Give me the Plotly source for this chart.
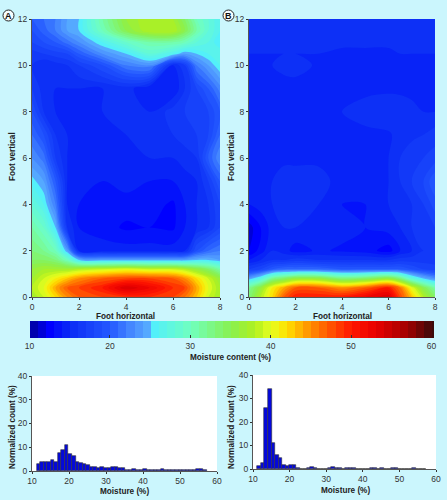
import plotly.graph_objects as go

FOOT_X = [0, 0.5, 1, 1.5, 2, 3, 4, 5, 6, 6.5, 7, 7.5, 8]
FOOT_Y = [0, 0.4, 0.8, 1.2, 1.6, 2, 3, 4, 5, 6, 7, 8, 9, 10, 10.5, 11, 11.5, 12]

FOOT_A = [
    [37, 39, 42, 45, 47, 48, 49, 49, 48, 46, 43, 39, 37],
    [38, 40, 44, 47, 48, 50, 54, 52, 49, 48, 44, 40, 37],
    [37, 39, 41, 43, 45, 47, 48, 48, 47, 45, 42, 39, 36],
    [36, 37, 37, 37, 38, 39, 40, 39, 39, 38, 36, 34, 31],
    [34, 34, 33, 30, 25, 24, 24, 24, 24, 24, 25, 25, 24],
    [33, 32, 30, 24, 15, 14.5, 14.5, 14.5, 14.5, 15, 19, 21, 22],
    [31, 29, 25, 16, 14, 13.5, 12.8, 13, 12.8, 14, 15, 16, 18],
    [28, 26, 22, 15, 14, 13.5, 13.5, 13.5, 12.8, 14, 15, 16, 18],
    [25.5, 24, 20, 15, 14.5, 14, 14.5, 14, 14, 14.5, 15, 17, 20],
    [23, 21.5, 17, 15, 15, 15, 15, 15, 15, 15.5, 16, 20, 23],
    [21, 19, 16, 15, 15, 15, 15, 15.5, 16, 16.5, 17, 18, 21],
    [19, 16, 15, 15, 15, 15, 15.5, 15, 16.5, 17, 17.5, 18, 20],
    [17, 15.5, 15, 15, 15, 15, 15.5, 14, 14, 16, 18, 20, 22.5],
    [16, 15, 15.5, 16, 17, 19, 22, 23, 15, 17, 22, 24, 26],
    [16.5, 17, 17.5, 18, 20, 23, 25, 28, 26, 24, 25, 26, 27],
    [18, 19, 20, 21.5, 23, 26, 29, 31, 31, 30, 28, 27, 25],
    [19, 20.5, 22, 24, 25, 30, 35, 38, 38, 35, 31, 28, 26],
    [20, 21, 22, 24, 25, 31, 36, 38, 37, 34, 30, 28, 26],
]

FOOT_B = [
    [33, 38, 42, 47, 50, 50, 50, 52, 54, 48, 43, 38, 34],
    [32, 36, 41, 44, 47, 47, 45, 47, 50, 46, 40, 35, 31],
    [24, 27, 32, 34, 36, 36, 33, 34, 36, 33, 28, 25, 23],
    [17, 18, 20, 21, 21, 21, 20, 20, 20, 20, 19, 18, 17.5],
    [14, 15, 16, 16, 16.5, 16, 16, 16, 16, 16.5, 16.5, 16.5, 16.5],
    [12, 13.5, 15, 14.5, 13.5, 14.2, 13.8, 13.5, 12.5, 14, 15, 16, 16],
    [11.5, 13, 14.5, 15, 15, 15, 14.5, 14, 14.5, 15, 16, 16.5, 17],
    [14, 14.5, 15, 15.5, 16, 15, 14, 14, 15, 15.5, 16, 17, 18.5],
    [15, 15, 15, 16, 16, 15.5, 14.5, 14.5, 15, 16, 17, 18, 20],
    [15, 15, 15, 14.5, 14.5, 14.7, 14.7, 14.7, 15, 16, 16.5, 17, 17.5],
    [15, 15, 15, 15, 15, 14.7, 14.5, 14.5, 14.8, 15.5, 15.8, 16, 16.5],
    [15, 15, 15, 15, 14.5, 14.5, 15, 15.8, 16, 16, 15.5, 15, 15],
    [15, 14.6, 14.3, 14.3, 14.5, 14.2, 14.3, 14.5, 14.7, 14.6, 14.5, 15, 15],
    [15, 15, 15, 15.5, 15.5, 14.8, 14.3, 14.2, 14.3, 14.7, 15, 15, 15],
    [15, 15, 15, 15, 15, 15, 14.8, 14.8, 14.8, 15, 15, 15, 15],
    [15.5, 15.5, 15.5, 15.3, 15.3, 15.2, 15.2, 15.2, 15.2, 15.3, 15.5, 15.5, 15.5],
    [15.6, 15.6, 15.6, 15.6, 15.6, 15.6, 15.6, 15.6, 15.6, 15.6, 15.6, 15.6, 15.6],
    [16, 16, 16, 16, 16, 16, 16, 16, 16, 16, 16, 16, 16],
]

BIN_CENTERS = [11.7 + 0.96 * i for i in range(48)]
HIST_A = [3, 4, 4, 4, 4.6, 3.8, 7.4, 9, 10.8, 7, 6.4, 4, 3.2, 2.8, 2.6, 1.7,
          1.7, 1.4, 1.7, 1.4, 1.2, 1.5, 1.8, 1.3, 1.4, 0.6, 0.6, 0.9, 0.5, 0.5,
          0.9, 0.6, 0.6, 0.6, 0.5, 0.9, 0.6, 0.6, 0.6, 0.5, 0.5, 0.5, 0.6, 0.6,
          0.5, 0.9, 0.9, 0.4]
HIST_B = [1.2, 2.5, 26, 34, 11, 6, 4.6, 1.8, 1.1, 1.5, 1.5, 0.6, 0.1, 0.1, 0.6,
          0.7, 0.4, 0.1, 0.1, 0.1, 0.6, 0.7, 0.4, 0.4, 0.1, 0.4, 0.6, 0.5, 0.1,
          0.1, 0.1, 0.1, 0.5, 0.6, 0.1, 0.5, 0.1, 0.1, 0.5, 0.5, 0.1, 0.1, 0.1,
          0.1, 0.5, 0.1, 0.1, 0.1]

SCALE_STOPS = [
    (10, "#00009a"), (12.5, "#0000ff"), (15, "#0a2cf5"), (20, "#2458ff"),
    (23, "#4a90ff"), (24.9, "#58b0ff"), (25, "#50eeff"), (30, "#70ffbe"),
    (35, "#88f050"), (38, "#b0f020"), (40, "#e6ff20"), (42, "#ffe000"),
    (45, "#ff8c00"), (48, "#ff4400"), (50, "#ff1500"), (53, "#e80000"),
    (57, "#a00000"), (60, "#3c0a0a"),
]
COLORSCALE = [[(v - 10) / 50, c] for v, c in SCALE_STOPS]

W, H = 447, 500
BG = "#cbf6fd"
INK = "#333333"
FONT = "Liberation Sans"
TICK = 8.5
LABEL = 8.2


def dom_x(a, b):
    return [a / W, b / W]


def dom_y(top, bottom):
    return [1 - bottom / H, 1 - top / H]


fig = go.Figure()

for i, (z, name) in enumerate([(FOOT_A, "A"), (FOOT_B, "B")]):
    tr = dict(
        x=FOOT_X, y=FOOT_Y, z=z, name=name,
        xaxis="x" if i == 0 else "x2", yaxis="y" if i == 0 else "y2",
        autocontour=False, zmin=10, zmax=60,
        contours=dict(start=10, end=60, size=1, coloring="fill", showlines=False),
        line=dict(width=0, smoothing=1.0),
        colorscale=COLORSCALE, showscale=i == 0, hoverinfo="skip",
    )
    if i == 0:
        tr["colorbar"] = dict(
            orientation="h", x=29.5 / W, xanchor="left", y=1 - 321 / H, yanchor="top",
            ypad=0, xpad=0, len=402, lenmode="pixels", thickness=17, thicknessmode="pixels",
            outlinewidth=0, tickvals=[10, 20, 30, 40, 50, 60], ticks="inside", ticklen=3,
            tickcolor=INK, tickfont=dict(size=TICK, family=FONT, color=INK),
            title=dict(text="<b>Moisture content (%)</b>", side="bottom",
                       font=dict(size=LABEL, family=FONT, color="#222222")),
        )
    fig.add_trace(go.Contour(**tr))

for vals, xa, ya in [(HIST_A, "x3", "y3"), (HIST_B, "x4", "y4")]:
    fig.add_trace(go.Bar(x=BIN_CENTERS, y=vals, width=0.96, xaxis=xa, yaxis=ya,
                         marker=dict(color="#0408dc", line=dict(color="#333333", width=0.6)),
                         showlegend=False, hoverinfo="skip"))

axis_common = dict(showgrid=False, zeroline=False, ticks="outside", ticklen=2, tickwidth=1,
                   tickcolor=INK, showline=True, linecolor="#555555", linewidth=1,
                   tickfont=dict(size=TICK, family=FONT, color=INK))

fig.update_layout(
    width=W, height=H, margin=dict(l=0, r=0, t=0, b=0, autoexpand=False), autosize=False,
    paper_bgcolor=BG, plot_bgcolor="white", showlegend=False, bargap=0,
    xaxis=dict(domain=dom_x(32, 220), anchor="y", range=[0, 8], dtick=2, **axis_common),
    yaxis=dict(domain=dom_y(19, 297), anchor="x", range=[0, 12], dtick=2, **axis_common),
    xaxis2=dict(domain=dom_x(249, 435), anchor="y2", range=[0, 8], dtick=2, **axis_common),
    yaxis2=dict(domain=dom_y(19, 297), anchor="x2", range=[0, 12], dtick=2, **axis_common),
    xaxis3=dict(domain=dom_x(32, 217), anchor="y3", range=[10, 60], dtick=10, **axis_common),
    yaxis3=dict(domain=dom_y(376, 471), anchor="x3", range=[0, 40], dtick=10, **axis_common),
    xaxis4=dict(domain=dom_x(253, 436), anchor="y4", range=[10, 60], dtick=10, **axis_common),
    yaxis4=dict(domain=dom_y(375, 469), anchor="x4", range=[0, 40], dtick=10, **axis_common),
    font=dict(family=FONT),
)

AXIS_TITLES = [
    ("Foot horizontal", 126, 316, 0), ("Foot horizontal", 342, 316, 0),
    ("Foot vertical", 12, 157, -90), ("Foot vertical", 231, 157, -90),
    ("Moisture (%)", 124, 491, 0), ("Moisture (%)", 345, 490, 0),
    ("Normalized count (%)", 12, 427, -90), ("Normalized count (%)", 231, 427, -90),
]
for text, px, py, rot in AXIS_TITLES:
    fig.add_annotation(x=px / W, y=1 - py / H, xref="paper", yref="paper", text=f"<b>{text}</b>",
                       showarrow=False, textangle=rot, xanchor="center", yanchor="middle",
                       borderpad=0, font=dict(size=LABEL, family=FONT, color="#222222"))

for label, cx in [("A", 8.5), ("B", 228.5)]:
    fig.add_annotation(x=cx / W, y=1 - 15.5 / H, xref="paper", yref="paper", text=f"<b>{label}</b>",
                       showarrow=False, font=dict(size=9, family=FONT, color="#111111"),
                       xanchor="center", yanchor="middle")
    fig.add_shape(type="circle", xref="paper", yref="paper",
                  x0=(cx - 5.5) / W, x1=(cx + 5.5) / W, y0=1 - 21 / H, y1=1 - 10 / H,
                  line=dict(color="#222222", width=1), fillcolor="rgba(255,255,255,0.85)", layer="below")

fig.write_html("out.html", config=dict(displayModeBar=False),
               post_script=f"document.body.style.margin='0';document.body.style.background='{BG}';")
